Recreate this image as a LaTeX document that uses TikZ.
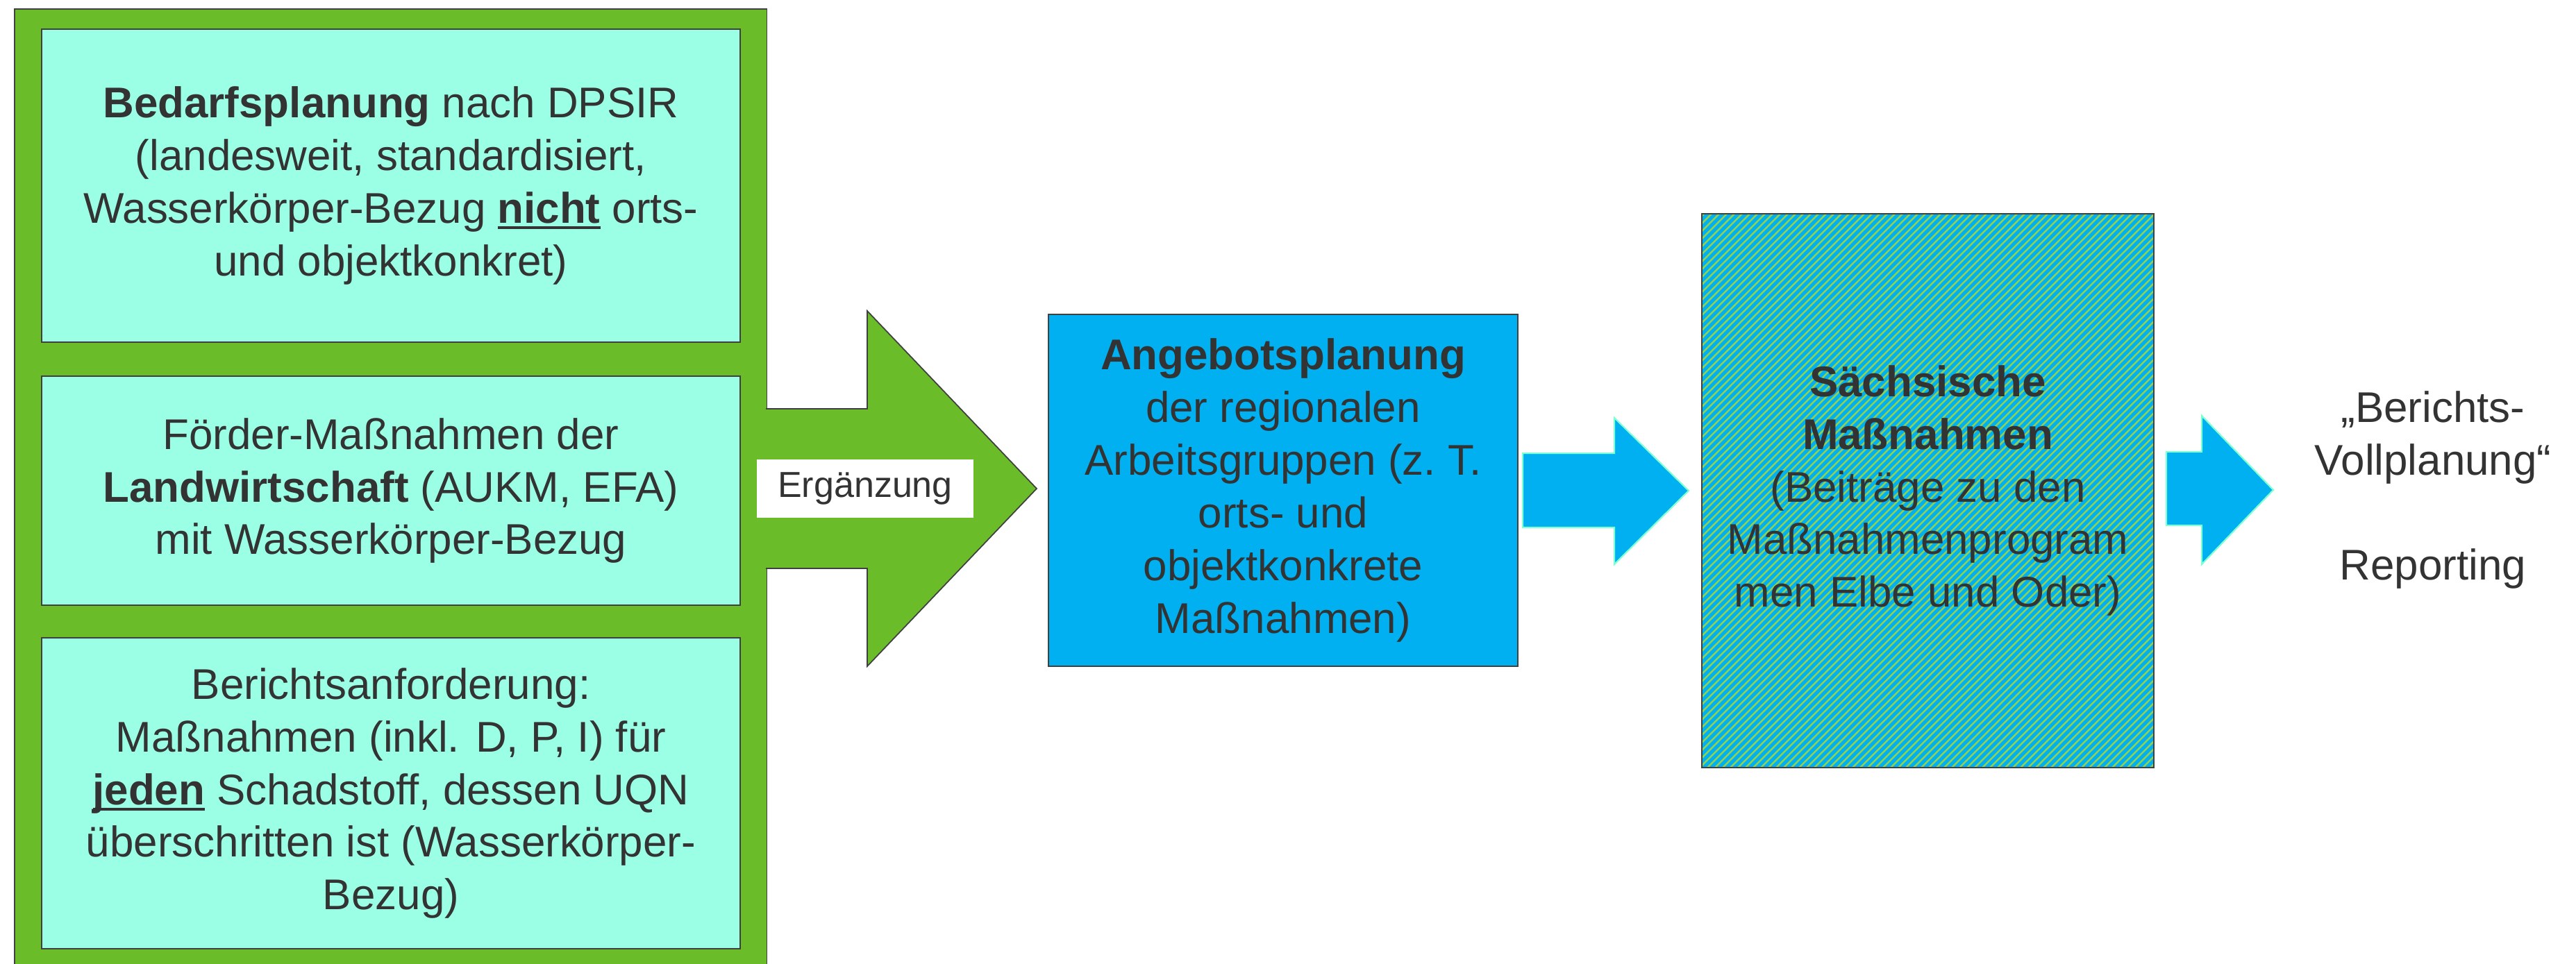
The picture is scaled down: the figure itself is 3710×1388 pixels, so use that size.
\documentclass[tikz,border=0pt]{standalone}
\usepackage{fontspec}
\setmainfont{Liberation Sans}
\definecolor{grn}{HTML}{6ABD28}
\definecolor{aqua}{HTML}{9BFFE6}
\definecolor{blu}{HTML}{00B0F0}
\definecolor{hgrn}{HTML}{92D050}
\definecolor{txt}{HTML}{333333}
\definecolor{edge}{HTML}{404040}
\definecolor{arrowedge}{HTML}{80FFD4}
\newlength\ulwd
\newcommand{\ulbf}[1]{\settowidth{\ulwd}{\textbf{#1}}\textbf{#1}\kern-\ulwd\rule[-0.14em]{\ulwd}{0.06em}}
\begin{document}
\begin{tikzpicture}[x=0.01cm,y=-0.01cm,
  every node/.style={text=txt, font=\fontsize{17.6}{21.6}\selectfont, inner sep=0pt, align=center},
  panel/.style={draw=edge, line width=0.5pt, fill=aqua, minimum width=10.06cm},
  bluebox/.style={draw=edge, line width=0.5pt, fill=blu},
  hatchbox/.style={fill=blu},
  stripe/.style={draw=hgrn, line width=0.72pt},
  bigarrow/.style={fill=grn},
  arrowline/.style={draw=edge, line width=0.5pt},
  smallarrow/.style={fill=blu, draw=arrowedge, line width=0.6pt}]
\clip (0,0) rectangle (3710,1388);

% green frame
\node[draw=edge, line width=0.5pt, fill=grn, minimum width=10.83cm, minimum height=13.9cm, anchor=north west] (frame) at (20,12) {};

% left panels
\node[panel, minimum height=4.51cm] (bedarf) at (563,267.5)
  {\textbf{Bedarfsplanung} nach DPSIR\\(landesweit, standardisiert,\\Wasserkörper-Bezug \ulbf{nicht} orts-\\und objektkonkret)};
\node[panel, minimum height=3.30cm] (foerder) at (563,707)
  {Förder-Maßnahmen der\\\textbf{Landwirtschaft} (AUKM, EFA)\\mit Wasserkörper-Bezug};
\node[panel, minimum height=4.48cm] (bericht) at (563,1143)
  {Berichtsanforderung:\\Maßnahmen (inkl. D, P, I) für\\\ulbf{jeden} Schadstoff, dessen UQN\\überschritten ist (Wasserkörper-\\Bezug)};

% big green arrow
\fill[bigarrow] (1098,589) -- (1249,589) -- (1249,448) -- (1493,704) -- (1249,960) -- (1249,819) -- (1098,819) -- cycle;
\draw[arrowline] (1103,589) -- (1249,589) -- (1249,448) -- (1493,704) -- (1249,960) -- (1249,819) -- (1103,819);
\node[fill=white, minimum width=3.12cm, minimum height=0.84cm, font=\fontsize{14.8}{18}\selectfont] (erg) at (1246,704) {Ergänzung};

% Angebotsplanung
\node[bluebox, minimum width=6.76cm, minimum height=5.07cm] (angebot) at (1848,706.5)
  {\textbf{Angebotsplanung}\\der regionalen\\Arbeitsgruppen (z.~T.\\orts- und\\objektkonkrete\\Maßnahmen)};

% arrow 1
\path[smallarrow] (2193,653) -- (2325,653) -- (2325,602) -- (2432,707) -- (2325,813) -- (2325,760) -- (2193,760) -- cycle;

% Saechsische Massnahmen (hatched)
\node[hatchbox, minimum width=6.49cm, minimum height=7.96cm] (saechs) at (2776.5,707) {};
\begin{scope}
  \clip (saechs.north west) rectangle (saechs.south east);
  \foreach \i in {0,...,134} {
    \draw[stripe] (1652+\i*11,1110) -- ++(805,-805);
  }
\end{scope}
\draw[draw=edge, line width=0.5pt] (saechs.north west) rectangle (saechs.south east);
\node (saechstext) at (saechs.center)
  {\textbf{Sächsische}\\\textbf{Maßnahmen}\\(Beiträge zu den\\Maßnahmenprogram\\men Elbe und Oder)};

% arrow 2
\path[smallarrow] (3120,651) -- (3171,651) -- (3171,599) -- (3274,706) -- (3171,813) -- (3171,757) -- (3120,757) -- cycle;

% result text
\node (report) at (3504,706) {„Berichts-\\Vollplanung“\\[21.6pt]Reporting};
\end{tikzpicture}
\end{document}
